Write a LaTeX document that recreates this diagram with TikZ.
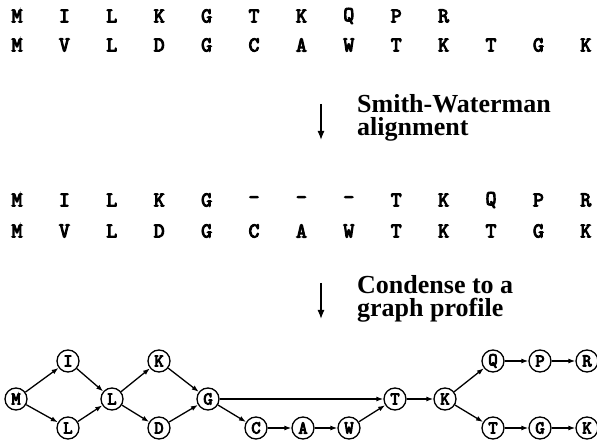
\documentclass[tikz,border=0pt]{standalone}
\usepackage{fontspec}
\setmainfont{Liberation Serif}
\newfontfamily\seqfont[FakeBold=5]{Latin Modern Mono}
\usetikzlibrary{arrows.meta}
\begin{document}
\begin{tikzpicture}[x=1pt,y=-1pt,
  seq/.style={font=\seqfont\fontsize{21}{21}\selectfont, inner sep=0pt, anchor=center},
  lbl/.style={font=\bfseries\fontsize{26}{23}\selectfont, align=left, anchor=base west, inner sep=0pt},
  gnode/.style={circle, draw, line width=1.3pt, minimum size=22pt, inner sep=0pt, font=\seqfont\fontsize{18}{18}\selectfont},
  edge/.style={line width=1.3pt, -{Latex[length=7pt,width=5pt]}},
  bigarrow/.style={line width=1.3pt, -{Latex[length=9pt,width=7pt]}}
]
\useasboundingbox (0,0) rectangle (597,443);
% sequences
\foreach \t [count=\i from 0] in {M,I,L,K,G,T,K,Q,P,R}
  \node[seq] (ra\i) at (17+47.4*\i,16) {\t};
\foreach \t [count=\i from 0] in {M,V,L,D,G,C,A,W,T,K,T,G,K}
  \node[seq] (rb\i) at (17+47.4*\i,45) {\t};
\foreach \t [count=\i from 0] in {M,I,L,K,G,-,-,-,T,K,Q,P,R}
  \node[seq] (rc\i) at (17+47.4*\i,200) {\t};
\foreach \t [count=\i from 0] in {M,V,L,D,G,C,A,W,T,K,T,G,K}
  \node[seq] (rd\i) at (17+47.4*\i,231) {\t};
% arrows and labels
\coordinate (a1s) at (321,104);
\coordinate (a1e) at (321,140);
\draw[bigarrow] (a1s) -- (a1e);
\node[lbl] (l1) at (357,136) {Smith-Waterman\\alignment};
\coordinate (a2s) at (321,283);
\coordinate (a2e) at (321,319);
\draw[bigarrow] (a2s) -- (a2e);
\node[lbl] (l2) at (357,317) {Condense to a\\graph profile};
% graph
\node[gnode] (gM) at (16,399) {M};
\node[gnode] (gI) at (68,361) {I};
\node[gnode] (gL1) at (68,428) {L};
\node[gnode] (gL2) at (112,399) {L};
\node[gnode] (gK) at (159,361) {K};
\node[gnode] (gD) at (159,428) {D};
\node[gnode] (gG) at (208,399) {G};
\node[gnode] (gC) at (256,428) {C};
\node[gnode] (gA) at (303,428) {A};
\node[gnode] (gW) at (349,428) {W};
\node[gnode] (gT) at (395,399) {T};
\node[gnode] (gK2) at (445,399) {K};
\node[gnode] (gQ) at (493,361) {Q};
\node[gnode] (gP) at (540,361) {P};
\node[gnode] (gR) at (587,361) {R};
\node[gnode] (gT2) at (493,428) {T};
\node[gnode] (gG2) at (540,428) {G};
\node[gnode] (gK3) at (587,428) {K};
\foreach \a/\b in {gM/gI,gM/gL1,gI/gL2,gL1/gL2,gL2/gK,gL2/gD,gK/gG,gD/gG,gG/gC,gG/gT,gC/gA,gA/gW,gW/gT,gT/gK2,gK2/gQ,gK2/gT2,gQ/gP,gP/gR,gT2/gG2,gG2/gK3}
  \draw[edge] (\a) -- (\b);
\end{tikzpicture}
\end{document}
